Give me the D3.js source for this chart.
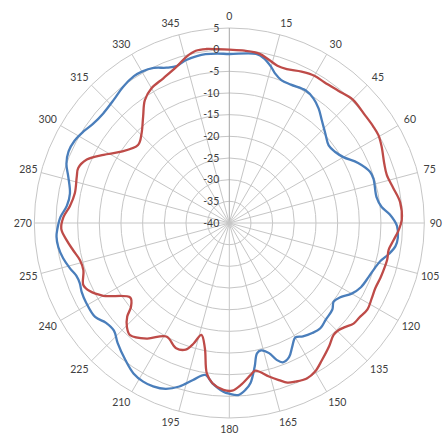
<!DOCTYPE html>
<html>
<head>
<meta charset="utf-8">
<script src="https://cdn.jsdelivr.net/npm/d3@7"></script>
<style>
  html, body { margin: 0; background: #fff; }
  svg { display: block; }
</style>
</head>
<body>
<svg id="chart" width="446" height="439"></svg>
<script>
// diagrama polar: dois cortes do padrao de radiacao (dB)
const blueAngles = [0, 9, 12, 15, 17, 20, 24, 30, 34, 38, 42, 47, 52, 56, 60, 65, 70, 73, 80, 84, 87, 91, 95, 98,
  101, 104, 107, 111, 116, 120, 124, 127, 130, 135, 139, 143, 147, 150, 153, 156, 159, 161, 163, 166, 168, 170,
  172.5, 174.5, 177, 180, 182, 186, 189, 193, 197, 201, 205, 208.5, 212.5, 217, 223, 227, 231, 235, 241, 245, 248,
  251, 254, 258, 262, 265.5, 268, 272, 276, 280.5, 286, 290, 294, 298, 302, 306, 311, 317, 322, 327, 330, 334, 338,
  341.5, 345, 349, 352, 356];
const blueDb = [-1.0, -0.5, -1.2, -2.7, -3.9, -4.9, -5.05, -4.7, -5.3, -6.5, -8.1, -9.7, -10.9, -10.6, -9.6, -7.2,
  -5.45, -5.2, -5.5, -4.65, -2.9, -1.3, -0.95, -1.3, -2.5, -4.0, -4.8, -5.5, -6.2, -7.4, -9.25, -9.85, -8.95, -8.5,
  -7.9, -8.2, -8.8, -9.5, -8.0, -6.1, -5.55, -6.65, -8.6, -9.7, -9.25, -6.3, -2.7, -1.3, -0.25, -0.6, -1.05, -2.8,
  -4.5, -2.8, -0.55, 1.0, 1.6, 1.65, 1.15, -0.26, -2.2, -3.6, -3.4, -2.2, -2.2, -2.4, -2.8, -2.65, -1.8, -0.8, -0.15,
  0, -0.3, -1.0, -2.3, -2.6, -1.35, 0, 0.6, 0.45, -0.25, -1.1, -1.45, -1.0, -0.15, 0.4, 0.35, -0.2, -1.35, -1.8,
  -1.1, -0.75, -0.65, -0.8];

const redAngles = [0, 5, 10, 13.5, 17, 20.5, 25.5, 30, 34, 39.5, 45, 51.5, 56, 59.5, 63.5, 69, 73, 78, 83, 89, 92.5,
  96, 99.5, 103, 107, 110, 114, 118, 122, 126, 129, 132, 134.5, 137, 141, 146, 150, 153.5, 157.5, 160, 162.5, 165.5,
  170, 172, 176, 179, 182, 186, 188.5, 191, 194, 196.5, 199, 203, 209, 215.5, 221.5, 224.5, 227.5, 229.5, 233, 240,
  244, 247, 252, 256, 260, 264, 268, 272, 276, 281, 287, 290, 294, 298.5, 303, 310.5, 315.5, 321, 325.5, 330, 335.5,
  341.5, 345.5, 349, 352.5, 356];
const redDb = [0, -0.07, -0.3, -1.2, -2.05, -2.1, -1.3, -0.75, -0.8, -0.45, 0.3, 0, 0, -0.06, -0.7, -1.7, -2.0, -1.3,
  -0.3, -0.2, -0.9, -1.9, -2.7, -2.6, -2.77, -2.9, -3.1, -2.8, -2.4, -2.9, -3.1, -4.1, -4.7, -4.7, -3.4, -1.8, -0.4,
  0.1, -0.35, -0.8, -2.0, -3.4, -5.4, -4.6, -2.5, -1.3, -1.45, -2.8, -4.9, -10.5, -13.4, -11.0, -9.1, -8.6, -10.05,
  -7.25, -5.45, -6.3, -8.05, -10.15, -11.4, -6.4, -4.15, -3.4, -4.6, -4.5, -3.45, -2.25, -1.2, -1.7, -3.0, -3.7,
  -3.2, -2.9, -4.0, -7.0, -9.9, -12.3, -11.1, -8.4, -5.6, -4.1, -3.3, -1.9, -0.4, 0.5, 0.5, 0.2];

const ringTicks = [-40, -35, -30, -25, -20, -15, -10, -5, 0, 5];
const angleLabels = [0, 15, 30, 45, 60, 75, 90, 105, 120, 135, 150, 165, 180, 195, 210, 225, 240, 255, 270, 285,
  300, 315, 330, 345];

const CX = 229.3;
const CY = 223;
const R = 195;
const BLUE = "#4a7ebb";
const RED = "#be4b48";
const GRID = "#c6c6c6";
const TEXT = "#404040";
const FONT = "Lato, 'Open Sans', sans-serif";

const svg = d3.select("#chart");
const g = svg.append("g").attr("transform", `translate(${CX},${CY})`);

const rScale = d3.scaleLinear().domain([-40, 5]).range([0, R]);
const aScale = d3.scaleLinear().domain([0, 360]).range([0, 2 * Math.PI]);

// aneis de grade
g.append("g")
  .selectAll("circle")
  .data(ringTicks.slice(1))
  .join("circle")
  .attr("r", (d) => rScale(d))
  .attr("fill", "none")
  .attr("stroke", GRID)
  .attr("stroke-width", 1);

// raios a cada 15 graus
g.append("g")
  .selectAll("line")
  .data(angleLabels)
  .join("line")
  .attr("x1", 0)
  .attr("y1", 0)
  .attr("x2", (d) => R * Math.sin(aScale(d)))
  .attr("y2", (d) => -R * Math.cos(aScale(d)))
  .attr("stroke", (d) => (d === 0 ? "#a6a6a6" : GRID))
  .attr("stroke-width", 1);

const line = d3
  .lineRadial()
  .angle((d) => aScale(d.a))
  .radius((d) => rScale(d.v))
  .curve(d3.curveCatmullRomClosed.alpha(0.5));

const blue = blueAngles.map((a, i) => ({ a, v: blueDb[i] }));
const red = redAngles.map((a, i) => ({ a, v: redDb[i] }));

[[blue, BLUE], [red, RED]].forEach(([data, color]) => {
  g.append("path")
    .attr("d", line(data))
    .attr("fill", "none")
    .attr("stroke", color)
    .attr("stroke-width", 2.3)
    .attr("stroke-linejoin", "round");
});

// rotulos do eixo de valores
g.append("g")
  .selectAll("text")
  .data(ringTicks)
  .join("text")
  .attr("x", -10)
  .attr("y", (d) => -rScale(d))
  .attr("dy", "0.35em")
  .attr("text-anchor", "end")
  .attr("font-family", FONT)
  .attr("font-size", 10.5)
  .attr("fill", TEXT)
  .text((d) => d);

// rotulos de angulo fora do circulo
g.append("g")
  .selectAll("text")
  .data(angleLabels)
  .join("text")
  .attr("text-anchor", "middle")
  .attr("dy", "0.35em")
  .attr("font-family", FONT)
  .attr("font-size", 10.5)
  .attr("fill", TEXT)
  .text((d) => d)
  .each(function (d) {
    const t = aScale(d);
    const w = this.getComputedTextLength();
    const s = Math.sin(t);
    const c = Math.cos(t);
    const sx = Math.abs(s) < 1e-6 ? 0 : Math.sign(s);
    const x = 206.5 * s + 0.6 * (w / 2) * sx * Math.abs(c);
    const y = -206.5 * c;
    d3.select(this).attr("x", x).attr("y", y);
  });
</script>
</body>
</html>
